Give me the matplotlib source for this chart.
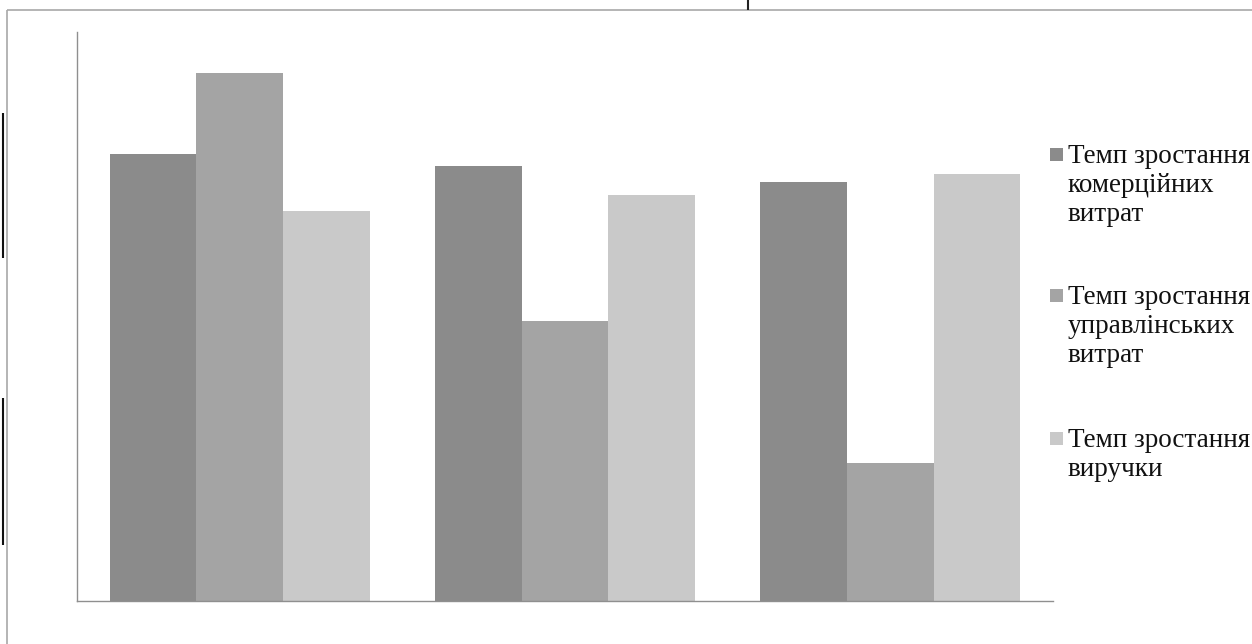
import matplotlib
matplotlib.use("Agg")
import matplotlib.pyplot as plt
from matplotlib.lines import Line2D
from matplotlib.patches import Rectangle
import numpy as np

# Growth-rate data for three periods
periods = ["1", "2", "3"]
series_names = [
    "Темп зростання\nкомерційних\nвитрат",
    "Темп зростання\nуправлінських\nвитрат",
    "Темп зростання\nвиручки",
]
commercial_costs = [1.10, 1.07, 1.03]
admin_costs = [1.30, 0.69, 0.34]
revenue = [0.96, 1.00, 1.05]
series_values = [commercial_costs, admin_costs, revenue]
series_colors = ["#8b8b8b", "#a4a4a4", "#c9c9c9"]

W, H = 1252, 644
fig = plt.figure(figsize=(W / 100, H / 100), dpi=100)
fig.patch.set_facecolor("white")

ax = fig.add_axes([77 / W, (H - 601) / H, 976 / W, 569 / H])
x = np.arange(len(periods))
bar_w = 0.8 / len(series_values)
for i, (vals, col) in enumerate(zip(series_values, series_colors)):
    ax.bar(x + (i - 1) * bar_w, vals, width=bar_w, color=col,
           edgecolor="none", linewidth=0, zorder=2)

ax.set_xlim(-0.5, 2.5)
ax.set_ylim(0, 1.4)
ax.set_xticks([])
ax.set_yticks([])
for side in ("top", "right"):
    ax.spines[side].set_visible(False)
for side in ("left", "bottom"):
    ax.spines[side].set_color("#8f8f8f")
    ax.spines[side].set_linewidth(1.0)
ax.patch.set_alpha(0)


def px_line(xs, ys, color, lw):
    fig.add_artist(Line2D([v / W for v in xs], [1 - v / H for v in ys],
                          transform=fig.transFigure, color=color,
                          linewidth=lw, solid_capstyle="butt"))


# Page frame around the chart
px_line([7, W], [10, 10], "#a8a8a8", 1.2)
px_line([7, 7], [10, H], "#a8a8a8", 1.2)
px_line([2.5, 2.5], [113, 258], "#111111", 1.5)
px_line([2.5, 2.5], [398, 545], "#111111", 1.5)
px_line([748, 748], [0, 10], "#222222", 1.5)

# Legend on the right: square marker beside the first line of each label
baselines = [163, 304, 447]
font = dict(family=["Liberation Serif", "DejaVu Serif"], size=19.5)
for name, col, base in zip(series_names, series_colors, baselines):
    fig.add_artist(Rectangle((1050 / W, 1 - (base - 2) / H), 13 / W, 13 / H,
                             transform=fig.transFigure, facecolor=col,
                             edgecolor="none"))
    fig.text(1068 / W, 1 - (base - 19) / H, name, ha="left", va="top",
             color="#111111", linespacing=1.2, **font)

fig.savefig("out.png", dpi=100, facecolor="white")
